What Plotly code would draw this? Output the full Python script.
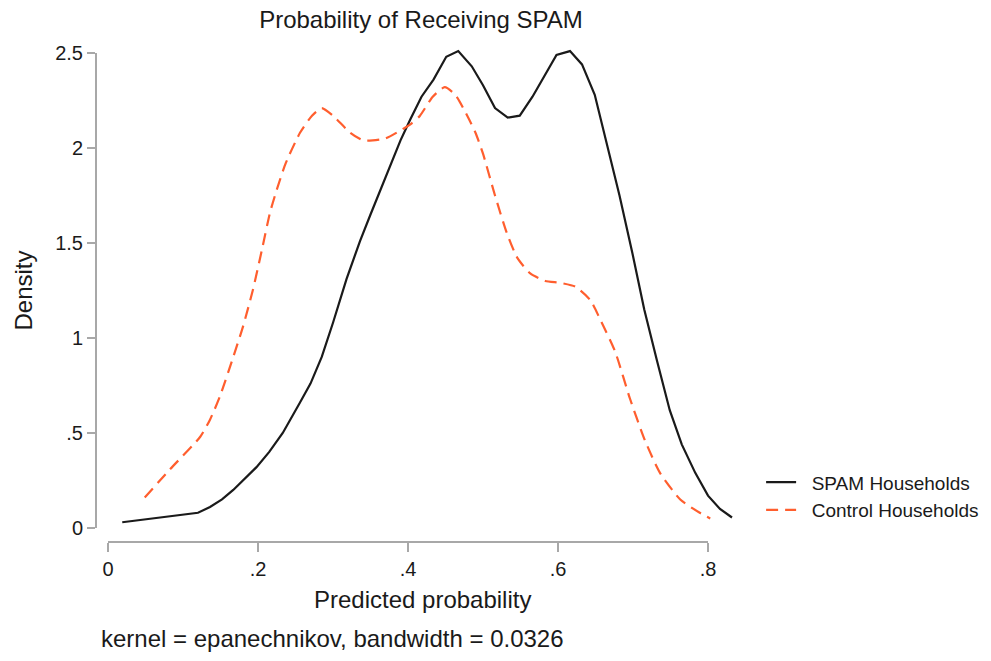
import plotly.graph_objects as go

# ---- data ----
spam_x = [0.019, 0.060, 0.100, 0.120, 0.136, 0.152, 0.167, 0.183, 0.198, 0.215,
          0.233, 0.256, 0.270, 0.285, 0.300, 0.318, 0.336, 0.350, 0.363, 0.377,
          0.390, 0.403, 0.418, 0.434, 0.451, 0.467, 0.485, 0.500, 0.516, 0.533,
          0.549, 0.566, 0.582, 0.598, 0.616, 0.632, 0.649, 0.665, 0.682, 0.699,
          0.715, 0.732, 0.749, 0.765, 0.783, 0.800, 0.816, 0.832]
spam_y = [0.03, 0.05, 0.07, 0.08, 0.11, 0.15, 0.20, 0.26, 0.32, 0.40,
          0.50, 0.66, 0.76, 0.90, 1.08, 1.31, 1.51, 1.65, 1.78, 1.92,
          2.04, 2.15, 2.27, 2.36, 2.48, 2.51, 2.43, 2.33, 2.21, 2.16,
          2.17, 2.27, 2.38, 2.49, 2.51, 2.44, 2.28, 2.02, 1.75, 1.45,
          1.15, 0.88, 0.62, 0.44, 0.29, 0.17, 0.10, 0.055]

ctrl_x = [0.049, 0.083, 0.123, 0.136, 0.149, 0.167, 0.180, 0.193, 0.205, 0.216,
          0.225, 0.237, 0.256, 0.272, 0.285, 0.300, 0.323, 0.340, 0.353, 0.370,
          0.389, 0.405, 0.416, 0.433, 0.449, 0.463, 0.479, 0.490, 0.500, 0.516,
          0.532, 0.546, 0.563, 0.583, 0.603, 0.623, 0.643, 0.656, 0.676, 0.696,
          0.716, 0.736, 0.763, 0.789, 0.803]
ctrl_y = [0.16, 0.31, 0.48, 0.57, 0.69, 0.90, 1.06, 1.25, 1.46, 1.66,
          1.78, 1.92, 2.08, 2.17, 2.21, 2.17, 2.08, 2.04, 2.04, 2.05,
          2.09, 2.13, 2.17, 2.27, 2.32, 2.28, 2.17, 2.08, 1.97, 1.75,
          1.55, 1.42, 1.34, 1.30, 1.29, 1.27, 1.20, 1.10, 0.93, 0.68,
          0.46, 0.29, 0.15, 0.08, 0.05]

x_tick_vals = [0, 0.2, 0.4, 0.6, 0.8]
x_tick_text = ["0", ".2", ".4", ".6", ".8"]
y_tick_vals = [0, 0.5, 1, 1.5, 2, 2.5]
y_tick_text = ["0", ".5", "1", "1.5", "2", "2.5"]

series_names = ["SPAM Households", "Control Households"]

FONT = "Liberation Sans, Arial, sans-serif"
AXIS_GRAY = "#a8a8a8"
TEXT = "#1a1a1a"
PAD = "\u00a0\u00a0"

fig = go.Figure()
fig.add_trace(go.Scatter(x=spam_x, y=spam_y, mode="lines", name=PAD + series_names[0],
                         line=dict(color="#1a1a1a", width=2.2)))
fig.add_trace(go.Scatter(x=ctrl_x, y=ctrl_y, mode="lines", name=PAD + series_names[1],
                         line=dict(color="#ff5e2e", width=2.2, dash="12px,7px", shape="spline", smoothing=0.6)))

fig.update_layout(
    width=991, height=661,
    margin=dict(l=96, r=253, t=34, b=119, autoexpand=False),
    paper_bgcolor="white", plot_bgcolor="white",
    font=dict(family=FONT, color=TEXT),
    title=dict(text="Probability of Receiving SPAM", x=421 / 991, xanchor="center",
               y=1 - 20 / 661, yanchor="middle", font=dict(size=24, color=TEXT)),
    showlegend=True,
    legend=dict(x=1.036, y=0.155, xanchor="left", yanchor="top",
                font=dict(size=19, color=TEXT), bgcolor="rgba(0,0,0,0)",
                itemwidth=30, tracegroupgap=0),
    xaxis=dict(range=[-0.016, 0.84], showline=False, showgrid=False, zeroline=False,
               tickmode="array", tickvals=x_tick_vals, ticktext=x_tick_text,
               ticks="outside", ticklen=9, tickwidth=2, tickcolor=AXIS_GRAY,
               tickfont=dict(size=20, color=TEXT)),
    yaxis=dict(range=[-0.074, 2.6], showline=False, showgrid=False, zeroline=False,
               tickmode="array", tickvals=y_tick_vals, ticktext=y_tick_text,
               ticks="outside", ticklen=8, tickwidth=2, tickcolor=AXIS_GRAY,
               tickfont=dict(size=20, color=TEXT)),
)

# axis lines spanning only the labelled range (Stata style)
fig.add_shape(type="line", xref="paper", yref="y", x0=0, x1=0, y0=0, y1=2.5,
              line=dict(color=AXIS_GRAY, width=2))
fig.add_shape(type="line", xref="x", yref="paper", x0=0, x1=0.8, y0=0, y1=0,
              line=dict(color=AXIS_GRAY, width=2))

fig.add_annotation(text="Density", xref="paper", yref="paper", x=-0.113, y=0.496,
                   textangle=-90, showarrow=False, font=dict(size=24, color=TEXT),
                   xanchor="center", yanchor="middle")
fig.add_annotation(text="Predicted probability", xref="paper", yref="paper", x=0.508, y=-0.114,
                   showarrow=False, font=dict(size=24, color=TEXT),
                   xanchor="center", yanchor="middle")
fig.add_annotation(text="kernel = epanechnikov, bandwidth = 0.0326", xref="paper", yref="paper",
                   x=0.004, y=-0.189, showarrow=False, font=dict(size=24, color=TEXT),
                   xanchor="left", yanchor="middle")

fig.write_html("out.html")
